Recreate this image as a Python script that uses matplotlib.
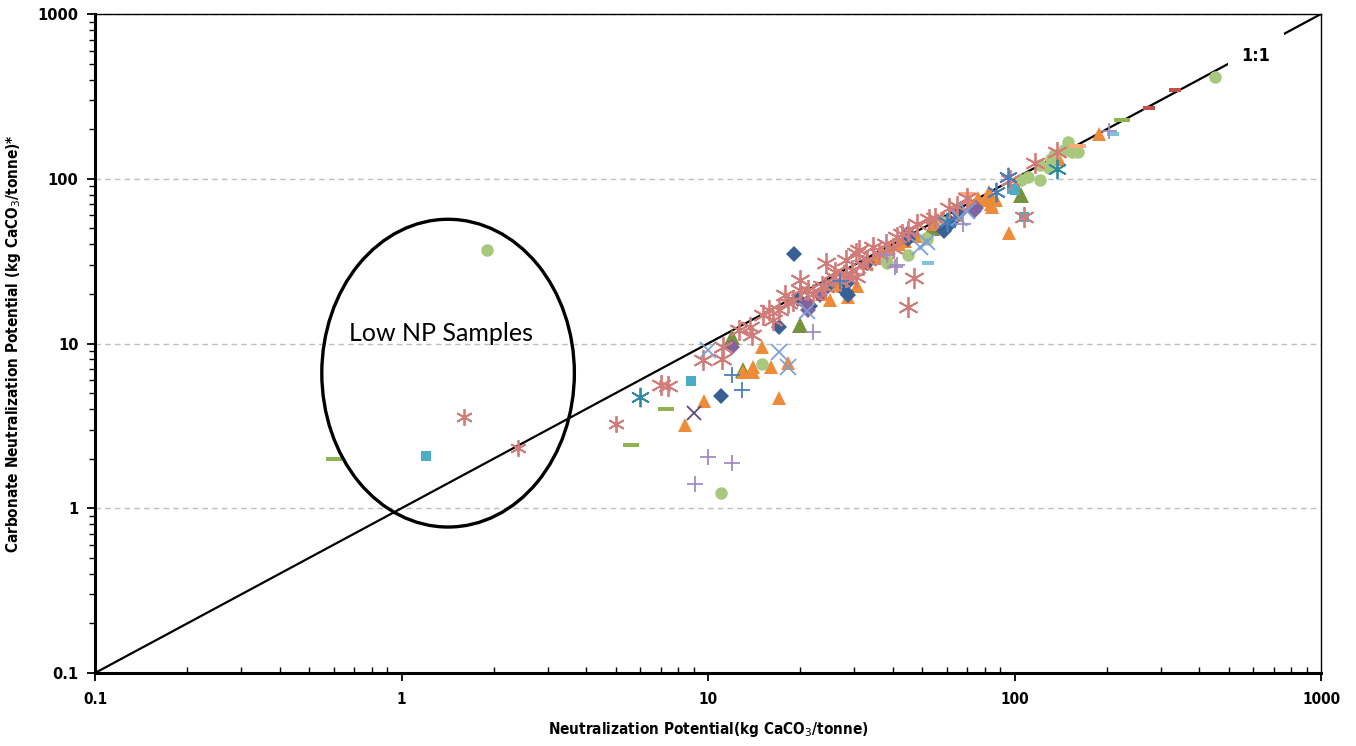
import numpy as np
import matplotlib.pyplot as plt
from matplotlib.patches import Ellipse
from matplotlib.ticker import FixedLocator, LogLocator, NullFormatter

"""data (NP vs carbonate NP, kg CaCO3/tonne)"""

blue_diamond_x = [19.1, 17.1, 11.0, 28.6, 24.7, 19.6, 28.4, 62, 59, 28.2, 21.5, 45, 66, 33]
blue_diamond_y = [34.9, 12.6, 4.8, 19.6, 22.2, 18.5, 23.4, 54, 48.5, 20.5, 17.0, 43, 62, 31]

orange_tri_x = [8.4, 9.7, 15.0, 14.0, 16.0, 18.2, 13.0, 14.0, 17.1, 25, 28.6, 30.7, 26.8, 33, 37, 39,
                27.5, 30.6, 81, 82.6, 80, 87, 84.5, 95.6, 189, 140, 23.5, 35, 42, 44, 48, 55, 65, 72, 76,
                83, 84]
orange_tri_y = [3.2, 4.5, 9.5, 7.2, 7.2, 7.6, 6.7, 6.7, 4.67, 18.4, 19.2, 22.2, 22.6, 30.7, 36, 38,
                22.2, 22.2, 74, 83, 74, 74, 67, 46.6, 186, 131, 20, 33, 40, 42, 45, 53, 60, 70, 76,
                80, 70]

green_circle_x = [1.9, 11.0, 15.0, 38.1, 45, 51.5, 58.5, 105, 111, 121, 121, 132, 150, 154, 161, 130,
                  451, 38.5, 52, 135, 145]
green_circle_y = [37, 1.24, 7.5, 32.1, 34.3, 43.6, 54.6, 98, 102, 98, 121, 131, 166, 145, 145, 116,
                  415, 30.7, 43, 140, 150]

pink_ast_x = [9.6, 11.1, 7.0, 7.4, 11.2, 12.6, 13.7, 13.9, 15.1, 16.3, 15.8, 17.8, 18.2, 20, 20, 21.2,
              23.5, 24.3, 25.8, 28.2, 30.5, 29.6, 33, 28.2, 31, 34.5, 41.3, 48, 52.6, 61, 70, 28.2,
              30.5, 47, 45, 97, 138, 117, 107, 26, 27, 32, 36, 38, 40, 43, 45, 55, 65, 24, 22, 19, 17]
pink_ast_y = [7.9, 8.0, 5.6, 5.5, 9.5, 12.0, 12.6, 11.3, 14.9, 13.9, 15.9, 19.6, 17.6, 24.2, 21, 21,
              22.2, 30.8, 25.2, 25.2, 35.4, 27.8, 32, 32, 37, 38.5, 44, 53.5, 57, 66, 76, 26.5,
              25.2, 25, 16.7, 98, 145, 125, 58.5, 27, 24, 30, 35, 40, 38, 46, 48, 58, 68, 22, 20, 18, 16]

pink_small_x = [1.6, 2.4, 5.0]
pink_small_y = [3.58, 2.32, 3.24]

purple_plus_x = [10.0, 12.0, 9.1, 22, 41.3, 68, 40.7, 38.5, 204]
purple_plus_y = [2.05, 1.88, 1.40, 11.8, 30, 53, 29.2, 34.3, 195]

blue_plus_x = [12.0, 12.9, 27]
blue_plus_y = [6.4, 5.2, 24]

teal_ast_x = [6.0, 138]
teal_ast_y = [4.73, 114]

blue_ast_x = [95, 87, 60]
blue_ast_y = [102, 83, 55]

cyan_sq_x = [1.2, 8.8, 100, 98, 107]
cyan_sq_y = [2.07, 5.9, 86, 87, 58.5]

green_dash_x = [0.6, 5.6, 7.3, 225]
green_dash_y = [2.0, 2.42, 4.0, 226]

dark_x_x = [9.0]
dark_x_y = [3.8]

light_x_x = [10, 17.1, 18.2, 21, 52, 49, 66, 70]
light_x_y = [9.1, 8.9, 7.2, 15.8, 41.4, 38.5, 58, 64]

olive_tri_x = [13, 20, 12, 105, 54]
olive_tri_y = [6.9, 12.9, 11, 80, 50]

purple_diamond_x = [12, 21, 23.2, 21.2, 45, 74, 75]
purple_diamond_y = [9.5, 17.6, 19.7, 15.9, 47, 64, 66]

lightcyan_dash_x = [52.2, 210]
lightcyan_dash_y = [30.8, 186]

salmon_dash_x = [70, 161]
salmon_dash_y = [80.7, 158]

red_dash_x = [275, 334]
red_dash_y = [267, 346]

one_to_one = [0.1, 1000]

"""plot"""

fig = plt.figure(figsize=(13.56, 7.46), dpi=100)
ax = fig.add_axes([95/1356, 73/746, 1226/1356, 659/746])
ax.set_xscale('log')
ax.set_yscale('log')

ax.plot(one_to_one, one_to_one, color='k', lw=1.6, zorder=2)

ast = (6, 2, 0)
dash = [(-1, -0.28), (1, -0.28), (1, 0.28), (-1, 0.28)]

series = [
    (olive_tri_x, olive_tri_y, '^', '#76923C', 11),
    (orange_tri_x, orange_tri_y, '^', '#EE8B38', 9.5),
    (green_circle_x, green_circle_y, 'o', '#A8C87E', 9),
    (blue_diamond_x, blue_diamond_y, 'D', '#376196', 8),
    (purple_diamond_x, purple_diamond_y, 'D', '#8064A2', 8),
    (cyan_sq_x, cyan_sq_y, 's', '#4BACC6', 6.5),
    (green_dash_x, green_dash_y, dash, '#8FB553', 12),
    (lightcyan_dash_x, lightcyan_dash_y, dash, '#7DC3DC', 9),
    (salmon_dash_x, salmon_dash_y, dash, '#FBAA78', 12),
    (red_dash_x, red_dash_y, dash, '#C0504D', 9),
]
for xs, ys, mk, c, ms in series:
    ax.plot(xs, ys, linestyle='none', marker=mk, color=c, markersize=ms,
            markeredgewidth=0, zorder=3)

line_series = [
    (pink_ast_x, pink_ast_y, ast, '#D27C79', 15),
    (pink_small_x, pink_small_y, ast, '#D27C79', 12),
    (teal_ast_x, teal_ast_y, ast, '#2E8AA0', 14),
    (blue_ast_x, blue_ast_y, ast, '#4A7EBB', 14),
    (purple_plus_x, purple_plus_y, '+', '#A28BC4', 12),
    (blue_plus_x, blue_plus_y, '+', '#4A7EBB', 12),
    (dark_x_x, dark_x_y, 'x', '#604A7B', 10),
    (light_x_x, light_x_y, 'x', '#7EA0D3', 11),
]
for xs, ys, mk, c, ms in line_series:
    ax.plot(xs, ys, linestyle='none', marker=mk, color=c, markersize=ms,
            markeredgewidth=1.3, zorder=3)

"""annotations"""

ax.add_patch(Ellipse((0.288, 0.455), 0.206, 0.467, transform=ax.transAxes,
                     fill=False, edgecolor='k', lw=2.4, zorder=4))
ax.text(0.282, 0.515, 'Low NP Samples', transform=ax.transAxes, fontsize=18,
        family='Lato', ha='center', va='center', zorder=5)
ax.text(0.947, 0.936, '1:1', transform=ax.transAxes, fontsize=13, family='DejaVu Sans',
        fontweight='bold', fontstretch='condensed', ha='center', va='center', zorder=5,
        bbox=dict(facecolor='white', edgecolor='none', pad=10))

"""axes detail"""

lab = dict(family='DejaVu Sans', fontweight='bold', fontstretch='condensed')

ticks = [0.1, 1, 10, 100, 1000]
tick_labels = ['0.1', '1', '10', '100', '1000']
ax.set_xlim(0.1, 1000)
ax.set_ylim(0.1, 1000)
for axis in (ax.xaxis, ax.yaxis):
    axis.set_major_locator(FixedLocator(ticks))
    axis.set_minor_locator(LogLocator(base=10, subs=np.arange(2, 10)))
    axis.set_minor_formatter(NullFormatter())
ax.set_xticklabels(tick_labels, fontsize=11, **lab)
ax.set_yticklabels(tick_labels, fontsize=10.5, fontweight='bold', family='DejaVu Sans')

ax.tick_params(axis='x', which='major', direction='out', length=6, width=1.3, pad=8)
ax.tick_params(axis='x', which='minor', direction='in', length=4, width=1)
ax.tick_params(axis='y', which='major', direction='out', length=6, width=1.3, pad=6)
ax.tick_params(axis='y', which='minor', direction='out', length=4, width=1)

ax.spines['left'].set_linewidth(2.2)
ax.spines['bottom'].set_linewidth(2.2)
ax.spines['top'].set_linewidth(1)
ax.spines['right'].set_linewidth(1)

ax.yaxis.grid(True, which='major', linestyle=(0, (4, 3)), color='#BFBFBF', lw=1)
ax.set_axisbelow(True)

ax.set_xlabel('Neutralization Potential(kg CaCO$_3$/tonne)', fontsize=11, labelpad=9, **lab)
ax.set_ylabel('Carbonate Neutralization Potential (kg CaCO$_3$/tonne)*', fontsize=11,
              labelpad=10, **lab)

"""save"""

plt.savefig('out.png', dpi=100)
